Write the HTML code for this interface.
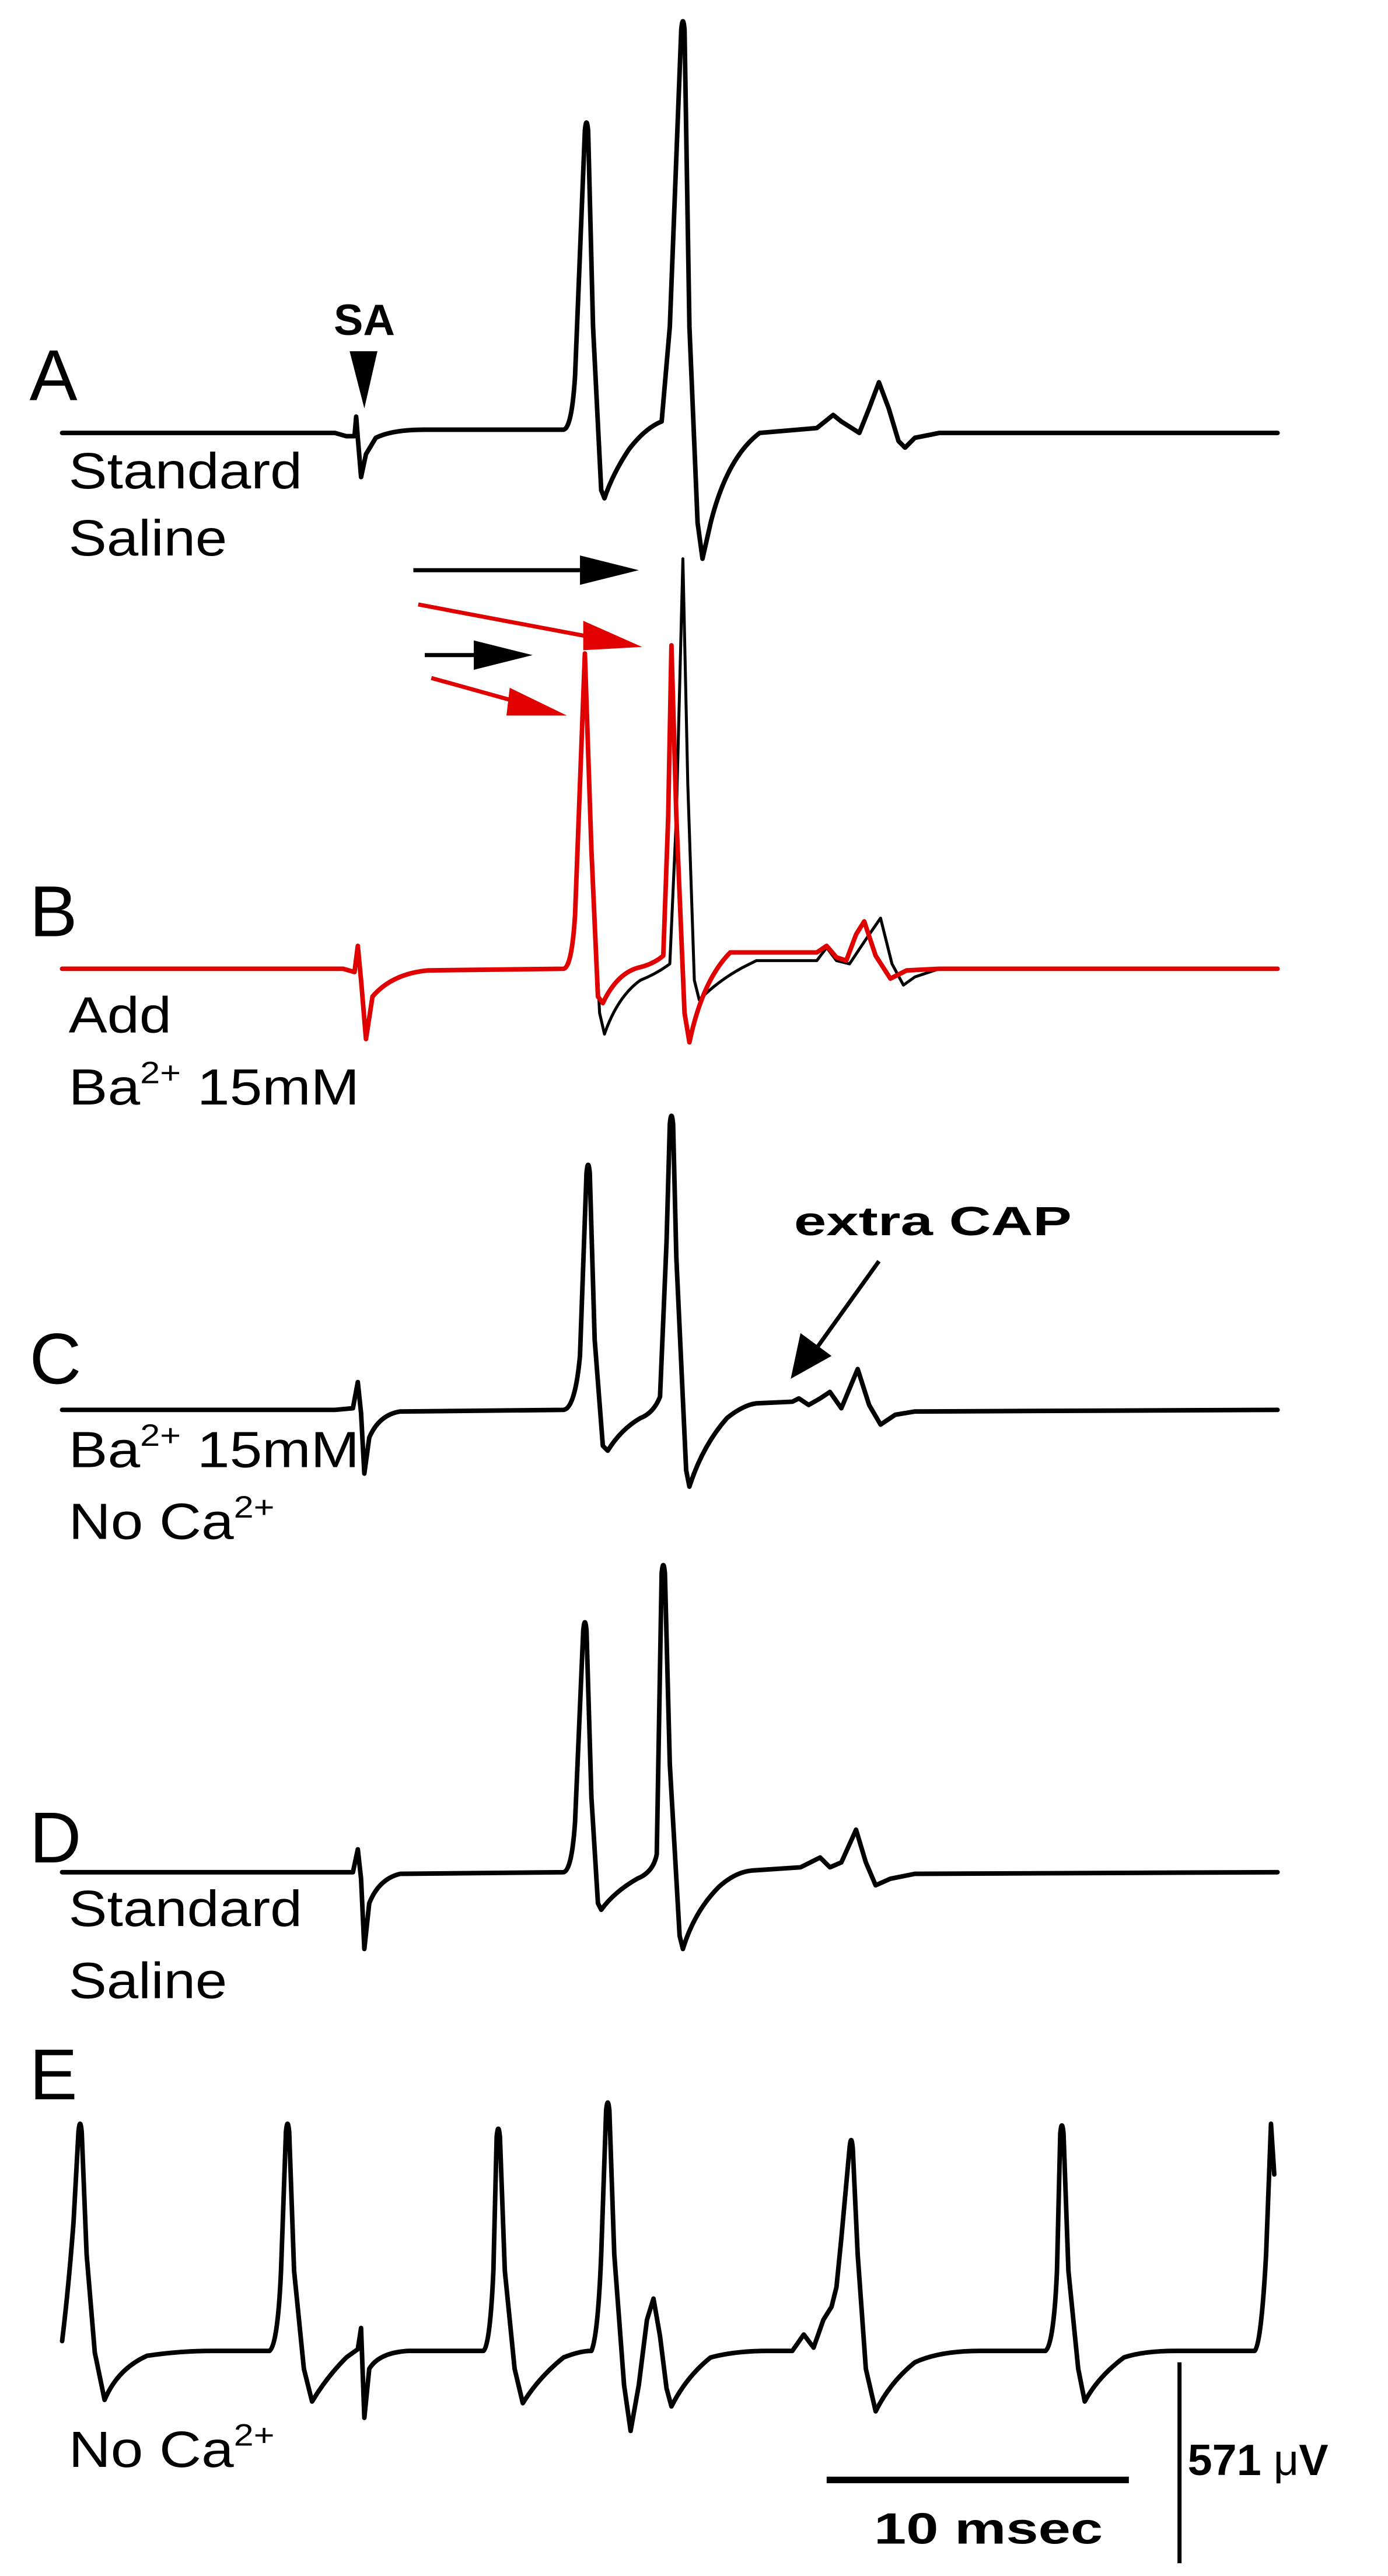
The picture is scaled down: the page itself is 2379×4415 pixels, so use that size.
<!DOCTYPE html>
<html><head><meta charset="utf-8"><style>
html,body{margin:0;padding:0;background:#fff;}
svg{display:block;}
text{font-family:"Liberation Sans",sans-serif;fill:#000;}
.t{fill:none;stroke:#000;stroke-width:2.8;stroke-linejoin:round;stroke-linecap:round;}
.tb{fill:none;stroke:#000;stroke-width:1.8;stroke-linejoin:round;stroke-linecap:round;}
.r{fill:none;stroke:#e00000;stroke-width:2.8;stroke-linejoin:round;stroke-linecap:round;}
.lab{font-size:31px;}
.big{font-size:44px;}
</style></head><body>
<svg width="2379" height="4415" viewBox="0 0 849.6 1576.8" xmlns="http://www.w3.org/2000/svg">
<!-- A -->
<text class="big" x="18" y="245">A</text>
<text x="223" y="205" font-size="27" font-weight="bold" text-anchor="middle">SA</text>
<polygon points="214,215 231,215 223,250" fill="#000"/>
<path class="t" d="M38,265 L205,265 L212,267 L217,267 L218,255 L219,268 L221,292 L224,278 L230,268 Q240,263 260,263 L345,263 Q350,262 352,230 L358,80 Q359,70 360,80 L363,200 L368,300 L370,305 Q375,290 385,275 Q395,262 405,258 L410,200 L417,18 Q418,8 419,18 L422,200 L427,320 L430,342 L435,320 Q445,280 465,265 L500,262 L505,258 L510,254 L515,258 L526,265 L532,250 L538,234 L544,250 L550,270 L554,274 L560,268 L575,265 L782,265"/>
<text class="lab" x="42" y="299" textLength="143" lengthAdjust="spacingAndGlyphs">Standard</text>
<text class="lab" x="42" y="340" textLength="97" lengthAdjust="spacingAndGlyphs">Saline</text>
<!-- arrows -->
<line x1="253" y1="349" x2="360" y2="349" stroke="#000" stroke-width="2.5"/>
<polygon points="355,340 391,349 355,358" fill="#000"/>
<line x1="256" y1="370" x2="362" y2="390" stroke="#e00000" stroke-width="2.5"/>
<polygon points="357,380 393,396 357,398" fill="#e00000"/>
<line x1="260" y1="401" x2="295" y2="401" stroke="#000" stroke-width="2.5"/>
<polygon points="290,392 326,401 290,410" fill="#000"/>
<line x1="264" y1="415" x2="318" y2="430" stroke="#e00000" stroke-width="2.5"/>
<polygon points="312,421 347,438 310,438" fill="#e00000"/>
<!-- B -->
<text class="big" x="18" y="573">B</text>
<path class="tb" d="M38,593 L210,593 L217,595 L219,579 L221,600 L224,636 L228,610 Q240,596 262,594 L345,593 Q350,592 352,560 L358,400 L362,520 L367,620 L370,633 Q378,610 392,600 Q402,596 410,590 L414,500 L418,342 L421,480 L425,600 L428,612 Q440,600 455,592 L463,588 L500,588 L506,580 L512,588 L520,590 L530,575 L539,562 L546,590 L553,603 L560,598 L575,593 L782,593"/>
<path class="r" d="M38,593 L210,593 L217,595 L219,579 L221,600 L224,636 L228,610 Q240,596 262,594 L345,593 Q350,592 352,560 L358,400 L362,520 L366,610 L369,614 Q378,595 392,592 Q400,590 406,585 L409,500 L411,395 L414,500 L419,620 L422,638 Q430,600 447,583 L500,583 L506,579 L512,586 L518,588 L524,572 L529,564 L536,585 L545,599 L555,594 L575,593 L782,593"/>
<text class="lab" x="42" y="632" textLength="63" lengthAdjust="spacingAndGlyphs">Add</text>
<text class="lab" x="42" y="676" textLength="178" lengthAdjust="spacingAndGlyphs">Ba<tspan font-size="19" dy="-13">2+</tspan><tspan dy="13"> 15mM</tspan></text>
<!-- C -->
<text class="big" x="18" y="847">C</text>
<text x="486" y="756" font-size="25" font-weight="bold" textLength="170" lengthAdjust="spacingAndGlyphs">extra CAP</text>
<line x1="538" y1="772" x2="500" y2="825" stroke="#000" stroke-width="2.5"/>
<polygon points="490,816 509,830 484,844" fill="#000"/>
<path class="t" d="M38,863 L205,863 L216,862 L219,846 L221,865 L223,902 L226,880 Q232,866 245,864 L345,863 Q352,862 355,830 L359,718 Q360,708 361,718 L364,820 L369,885 L372,888 Q380,875 392,868 Q400,865 404,855 L408,760 L410,688 Q411,678 412,688 L414,770 L420,900 L422,910 Q430,885 445,868 Q455,860 463,859 L485,858 L489,856 L495,860 L502,856 L508,852 L515,862 L520,850 L525,838 L532,860 L539,872 L548,866 L560,864 L782,863"/>
<text class="lab" x="42" y="898" textLength="178" lengthAdjust="spacingAndGlyphs">Ba<tspan font-size="19" dy="-13">2+</tspan><tspan dy="13"> 15mM</tspan></text>
<text class="lab" x="42" y="942" textLength="126" lengthAdjust="spacingAndGlyphs">No Ca<tspan font-size="19" dy="-13">2+</tspan></text>
<!-- D -->
<text class="big" x="18" y="1140">D</text>
<path class="t" d="M38,1146 L205,1146 L216,1146 L219,1132 L221,1150 L223,1193 L226,1165 Q232,1150 245,1147 L345,1146 Q350,1145 352,1115 L357,998 Q358,988 359,998 L362,1100 L366,1165 L368,1169 Q376,1158 390,1150 Q400,1146 402,1135 L405,963 Q406,953 407,963 L410,1080 L416,1185 L418,1193 Q425,1170 440,1155 Q450,1146 460,1145 L490,1143 L496,1140 L502,1137 L508,1143 L515,1140 L524,1120 L530,1140 L536,1154 L545,1150 L560,1147 L782,1146"/>
<text class="lab" x="42" y="1179" textLength="143" lengthAdjust="spacingAndGlyphs">Standard</text>
<text class="lab" x="42" y="1223" textLength="97" lengthAdjust="spacingAndGlyphs">Saline</text>
<!-- E -->
<text class="big" x="18" y="1285">E</text>
<path class="t" d="M38,1433 Q42,1400 45,1360 L48,1305 Q49,1295 50,1305 L53,1380 L58,1440 L64,1469 Q72,1450 90,1442 Q110,1439 130,1439 L165,1439 Q170,1435 172,1390 L175,1305 Q176,1295 177,1305 L180,1390 L186,1450 L191,1470 Q200,1455 212,1443 L219,1438 L221,1425 L223,1480 L226,1450 Q232,1440 250,1439 L296,1439 Q300,1435 302,1390 L304,1308 Q305,1298 306,1308 L309,1390 L315,1450 L320,1471 Q330,1455 345,1443 Q355,1439 362,1439 Q366,1430 368,1380 L371,1292 Q372,1282 373,1292 L376,1380 L382,1460 L386,1488 L391,1460 L396,1420 L400,1407 L404,1430 L408,1462 L411,1473 Q420,1455 435,1443 Q450,1439 470,1439 L485,1439 L492,1429 L498,1437 L504,1420 L509,1412 L512,1400 L515,1370 L520,1315 Q521,1305 522,1315 L525,1380 L530,1450 L536,1476 Q545,1458 560,1446 Q575,1439 600,1439 L640,1439 Q645,1435 647,1390 L649,1306 Q650,1296 651,1306 L654,1390 L660,1450 L664,1470 Q672,1455 688,1443 Q700,1439 720,1439 L768,1439 Q772,1435 775,1380 L778,1300 L780,1331"/>
<text class="lab" x="42" y="1510" textLength="126" lengthAdjust="spacingAndGlyphs">No Ca<tspan font-size="19" dy="-13">2+</tspan></text>
<!-- scale bars -->
<line x1="506" y1="1518" x2="691" y2="1518" stroke="#000" stroke-width="4"/>
<text x="605" y="1557" font-size="27" font-weight="bold" text-anchor="middle" textLength="140" lengthAdjust="spacingAndGlyphs">10 msec</text>
<line x1="722" y1="1446" x2="722" y2="1569" stroke="#000" stroke-width="2.5"/>
<text x="727" y="1515" font-size="27" font-weight="bold">571 <tspan font-weight="normal">μ</tspan>V</text>
</svg>
</body></html>
